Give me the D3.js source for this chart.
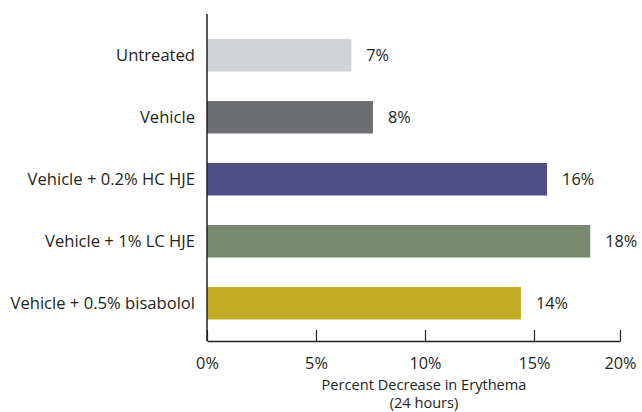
<!DOCTYPE html>
<html>
<head>
<meta charset="utf-8">
<script src="https://cdn.jsdelivr.net/npm/d3@7"></script>
<style>
  html, body { margin: 0; padding: 0; background: #fff; }
  svg { display: block; }
  text { font-family: "Open Sans", "Lato", sans-serif; fill: #231f20; }
</style>
</head>
<body>
<svg id="chart" width="642" height="412"></svg>
<script>
const categories = ["Untreated", "Vehicle", "Vehicle + 0.2% HC HJE", "Vehicle + 1% LC HJE", "Vehicle + 0.5% bisabolol"];
const values = [6.62, 7.61, 15.6, 17.58, 14.4];
const valueLabels = ["7%", "8%", "16%", "18%", "14%"];
const colors = ["#d1d3d4", "#6d6e71", "#514e86", "#77896f", "#c4ad26"];
const tickValues = [0, 5, 10, 15, 20];
const tickLabels = ["0%", "5%", "10%", "15%", "20%"];
const axisTitle = ["Percent Decrease in Erythema", "(24 hours)"];

const FONT = "'Open Sans', Lato, sans-serif";
const svg = d3.select("#chart");
const left = 207, axisY = 341, axisEnd = 620;

const x = d3.scaleLinear().domain([0, 20]).range([left, left + 20 * 21.8]);
// axis tick placement as drawn in the original (last tick pulled in to axis end)
const xAxisScale = d3.scaleLinear().domain([0, 15, 20]).range([x(0), x(15), axisEnd]);

const y = d3.scaleBand().domain(categories).range([24, 334.5])
  .paddingInner(0.476).paddingOuter(0.242);

// bars
svg.append("g").selectAll("rect").data(categories).join("rect")
  .attr("x", x(0))
  .attr("y", d => y(d))
  .attr("width", (d, i) => x(values[i]) - x(0))
  .attr("height", y.bandwidth())
  .attr("fill", (d, i) => colors[i]);

// value labels
svg.append("g").selectAll("text").data(categories).join("text")
  .attr("x", (d, i) => x(values[i]) + 15)
  .attr("y", d => y(d) + y.bandwidth() / 2)
  .attr("dy", "0.35em")
  .attr("font-size", 16.3)
  .text((d, i) => valueLabels[i]);

// category labels
svg.append("g").selectAll("text").data(categories).join("text")
  .attr("x", left - 12)
  .attr("y", d => y(d) + y.bandwidth() / 2)
  .attr("dy", "0.35em")
  .attr("text-anchor", "end")
  .attr("font-size", 16.6)
  .text(d => d);

// x axis
const xAxis = d3.axisBottom(xAxisScale)
  .tickValues(tickValues)
  .tickSizeInner(-11)
  .tickSizeOuter(0)
  .tickPadding(16)
  .tickFormat((d, i) => tickLabels[i]);
const gx = svg.append("g").attr("transform", `translate(0,${axisY})`).call(xAxis);
gx.select(".domain").attr("stroke", "#231f20").attr("stroke-width", 1.5);
gx.selectAll(".tick line").attr("stroke", "#231f20").attr("stroke-width", 1.2);
gx.selectAll(".tick text").attr("font-size", 16.3).attr("font-family", FONT).attr("fill", "#231f20");

// y axis line
svg.append("line")
  .attr("x1", left).attr("x2", left)
  .attr("y1", 14).attr("y2", axisY)
  .attr("stroke", "#231f20").attr("stroke-width", 1.5);

// axis title
svg.append("g").selectAll("text").data(axisTitle).join("text")
  .attr("x", 424)
  .attr("y", (d, i) => 389.5 + i * 18.5)
  .attr("text-anchor", "middle")
  .attr("font-size", 14.6)
  .text(d => d);
</script>
</body>
</html>
